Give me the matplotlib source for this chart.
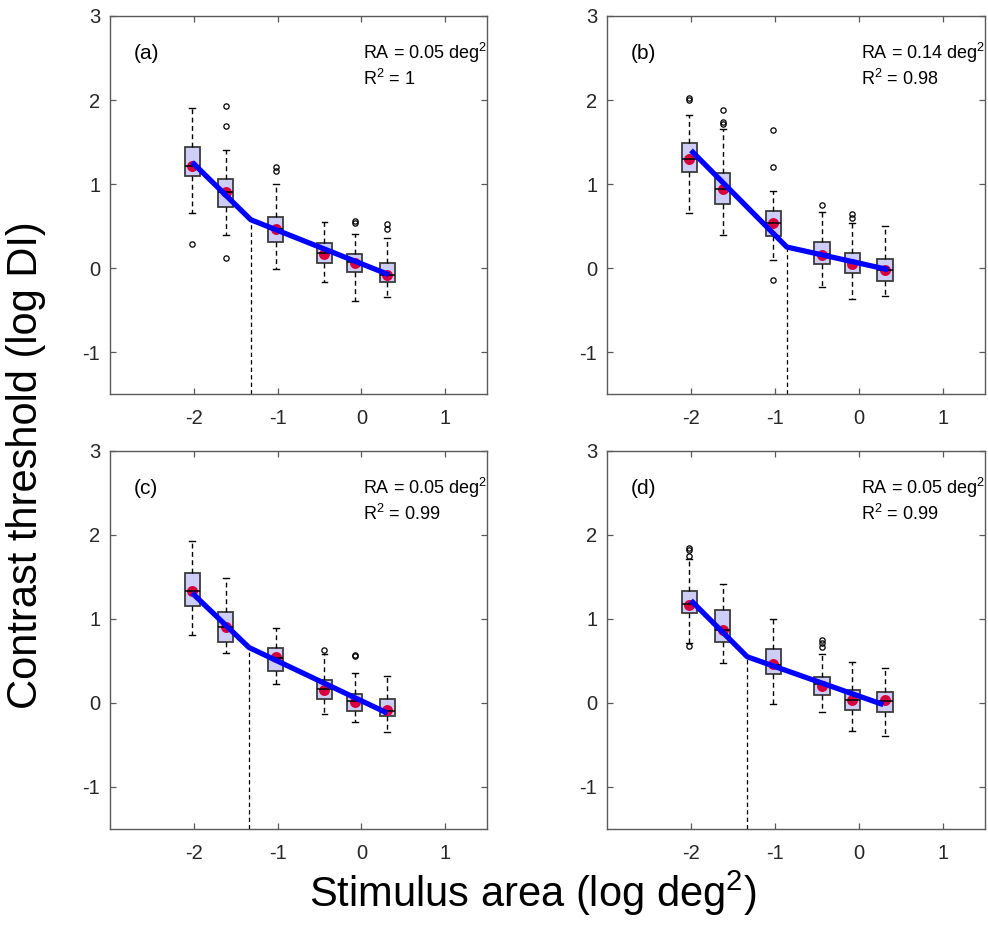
import matplotlib
matplotlib.use('Agg')
import matplotlib.pyplot as plt

plt.rcParams['font.family'] = ['Liberation Sans', 'DejaVu Sans']
plt.rcParams['mathtext.fontset'] = 'custom'
plt.rcParams['mathtext.rm'] = 'Liberation Sans'

# log stimulus area of the six sizes
x_pos = [-2.02, -1.62, -1.02, -0.44, -0.08, 0.31]

panel_tags = ['(a)', '(b)', '(c)', '(d)']
ra_text = ['0.05', '0.14', '0.05', '0.05']
r2_text = ['1', '0.98', '0.99', '0.99']

# box statistics per panel
whislo = [
    [0.66, 0.39, -0.01, -0.17, -0.39, -0.35],
    [0.66, 0.39, 0.09, -0.23, -0.37, -0.33],
    [0.81, 0.59, 0.23, -0.13, -0.23, -0.35],
    [0.71, 0.48, -0.01, -0.11, -0.33, -0.39],
]
q1 = [
    [1.10, 0.73, 0.31, 0.06, -0.05, -0.17],
    [1.14, 0.76, 0.38, 0.05, -0.06, -0.15],
    [1.15, 0.73, 0.38, 0.05, -0.09, -0.16],
    [1.07, 0.73, 0.34, 0.09, -0.08, -0.11],
]
med = [
    [1.22, 0.91, 0.46, 0.18, 0.07, -0.08],
    [1.30, 0.94, 0.54, 0.17, 0.07, -0.02],
    [1.33, 0.91, 0.54, 0.17, 0.02, -0.09],
    [1.18, 0.87, 0.45, 0.23, 0.04, 0.02],
]
q3 = [
    [1.44, 1.06, 0.61, 0.30, 0.17, 0.06],
    [1.49, 1.13, 0.68, 0.31, 0.18, 0.11],
    [1.55, 1.08, 0.65, 0.27, 0.11, 0.05],
    [1.33, 1.11, 0.64, 0.31, 0.15, 0.13],
]
whishi = [
    [1.90, 1.40, 1.00, 0.55, 0.41, 0.36],
    [1.82, 1.65, 0.92, 0.67, 0.53, 0.50],
    [1.93, 1.49, 0.89, 0.58, 0.36, 0.32],
    [1.72, 1.42, 1.00, 0.58, 0.49, 0.42],
]
means = [
    [1.22, 0.91, 0.47, 0.17, 0.06, -0.08],
    [1.30, 0.94, 0.53, 0.15, 0.05, -0.02],
    [1.33, 0.90, 0.55, 0.15, 0.01, -0.08],
    [1.17, 0.87, 0.46, 0.20, 0.03, 0.03],
]
fliers = [
    [[0.28], [1.93, 1.69, 0.12], [1.20, 1.15], [], [0.56, 0.54], [0.52, 0.47]],
    [[2.02, 2.00], [1.88, 1.74, 1.71], [1.64, 1.20, -0.14], [0.75], [0.64, 0.60], []],
    [[], [], [], [0.63], [0.57, 0.56], []],
    [[1.85, 1.82, 1.75, 0.68], [], [], [0.75, 0.71, 0.67], [], []],
]

# two-segment fit: start, break (= log RA), end
fit_x = [
    [-2.02, -1.32, 0.33],
    [-2.00, -0.86, 0.35],
    [-2.02, -1.34, 0.31],
    [-2.00, -1.33, 0.29],
]
fit_y = [
    [1.26, 0.575, -0.08],
    [1.40, 0.25, -0.02],
    [1.31, 0.66, -0.12],
    [1.22, 0.55, -0.02],
]

W, H = 988, 930
fig = plt.figure(figsize=(W / 100, H / 100), dpi=100)

# axes rectangles in pixels: left, top, right, bottom
rects = [(110, 16, 487, 394), (607, 16, 985, 394),
         (110, 451, 487, 829), (607, 451, 985, 829)]

axcol = '#5a5a5a'
for i, (l, t, r, b) in enumerate(rects):
    ax = fig.add_axes([l / W, 1 - b / H, (r - l) / W, (b - t) / H])

    stats = []
    for j in range(len(x_pos)):
        stats.append(dict(whislo=whislo[i][j], q1=q1[i][j], med=med[i][j],
                          q3=q3[i][j], whishi=whishi[i][j],
                          fliers=fliers[i][j], mean=means[i][j]))
    ax.bxp(stats, positions=x_pos, widths=0.18, capwidths=0.07,
           patch_artist=True, showmeans=False, manage_ticks=False,
           boxprops=dict(facecolor='#cdcdf7', edgecolor='#3c3c3c', linewidth=1.3),
           medianprops=dict(color='black', linewidth=1.1),
           whiskerprops=dict(color='black', linewidth=1.0, linestyle=(0, (3.5, 2.5))),
           capprops=dict(color='black', linewidth=1.0),
           flierprops=dict(marker='o', markersize=3.8, markerfacecolor='none',
                           markeredgecolor='black', markeredgewidth=0.9))

    ax.scatter(x_pos, means[i], s=62, color='#d7003f', zorder=2.05, linewidths=0)

    ax.plot(fit_x[i], fit_y[i], color='#0000ff', linewidth=3.8, zorder=3,
            solid_joinstyle='round', solid_capstyle='butt')
    ax.vlines(fit_x[i][1], -1.5, fit_y[i][1], colors='black', linewidth=0.9,
              linestyles=(0, (3.5, 2.5)), zorder=2.5)

    ax.text(0.063, 0.902, panel_tags[i], transform=ax.transAxes,
            fontsize=15, va='center', ha='left')
    ax.text(0.672, 0.886, 'RA = ' + ra_text[i] + ' deg$^2$', transform=ax.transAxes,
            fontsize=13, va='baseline', ha='left')
    ax.text(0.672, 0.817, 'R$^2$ = ' + r2_text[i], transform=ax.transAxes,
            fontsize=13, va='baseline', ha='left')

    ax.set_xlim(-3, 1.5)
    ax.set_ylim(-1.5, 3)
    ax.set_xticks([-2, -1, 0, 1])
    ax.set_yticks([-1, 0, 1, 2, 3])
    ax.set_xticklabels(['-2', '-1', '0', '1'])
    ax.set_yticklabels(['-1', '0', '1', '2', '3'])
    ax.tick_params(direction='in', length=4, width=0.9, color=axcol,
                   labelsize=14.5, labelcolor='#262626', top=True, right=True)
    ax.tick_params(axis='x', pad=11)
    ax.tick_params(axis='y', pad=7)
    for s in ax.spines.values():
        s.set_color(axcol)
        s.set_linewidth(1.0)

fig.text(0.539, 0.0247, 'Stimulus area (log deg$^2$)', fontsize=30,
         ha='center', va='baseline')
fig.text(0.026, 0.5, 'Contrast threshold (log DI)', fontsize=30,
         ha='center', va='center', rotation=90)

fig.savefig('out.png', dpi=100)
